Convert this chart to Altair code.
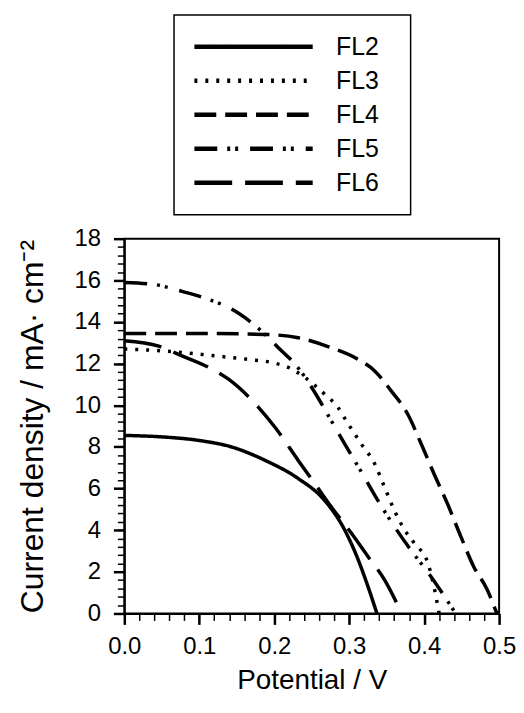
import altair as alt
import pandas as pd

series = ["FL2", "FL3", "FL4", "FL5", "FL6"]

fl2_x = [0.0, 0.05, 0.0995, 0.1437, 0.188, 0.232, 0.267, 0.294, 0.312, 0.325, 0.337]
fl2_y = [8.55, 8.48, 8.31, 7.99, 7.35, 6.48, 5.44, 4.01, 2.58, 1.30, 0.0]

fl3_x = [0.0, 0.0553, 0.1216, 0.166, 0.197, 0.22, 0.241, 0.267, 0.285, 0.297, 0.316, 0.334, 0.347, 0.36, 0.374, 0.387, 0.405, 0.413, 0.42]
fl3_y = [12.7, 12.6, 12.37, 12.2, 12.05, 11.8, 11.33, 10.54, 9.9, 9.2, 8.15, 7.19, 6.08, 4.97, 4.01, 3.37, 2.42, 1.30, 0.0]

fl4_x = [0.0, 0.1, 0.188, 0.232, 0.276, 0.312, 0.334, 0.356, 0.378, 0.396, 0.413, 0.431, 0.449, 0.466, 0.484, 0.497]
fl4_y = [13.45, 13.45, 13.4, 13.24, 12.76, 12.2, 11.65, 10.69, 9.58, 8.15, 6.72, 5.28, 3.69, 2.26, 1.15, 0.0]

fl5_x = [0.0, 0.04, 0.077, 0.108, 0.152, 0.183, 0.21, 0.228, 0.25, 0.276, 0.294, 0.32, 0.338, 0.358, 0.382, 0.409, 0.427, 0.442]
fl5_y = [15.9, 15.8, 15.47, 15.14, 14.43, 13.56, 12.6, 11.97, 10.85, 9.26, 8.15, 6.56, 5.44, 4.3, 3.06, 1.78, 0.83, 0.0]

fl6_x = [0.0, 0.046, 0.077, 0.113, 0.139, 0.179, 0.201, 0.232, 0.254, 0.276, 0.303, 0.325, 0.347, 0.37]
fl6_y = [13.1, 12.84, 12.37, 11.81, 11.25, 9.9, 8.94, 7.35, 6.24, 5.12, 3.85, 2.74, 1.62, 0.0]

dashes = [[1, 0], [3, 8], [22, 9], [23, 10, 3, 5, 3, 12], [38, 13]]

x_major_ticks = [0.0, 0.1, 0.2, 0.3, 0.4, 0.5]
y_major_ticks = [0, 2, 4, 6, 8, 10, 12, 14, 16, 18]
x_minor_ticks = [round(i * 0.02, 2) for i in range(26)]
y_minor_ticks = [round(i * 0.4, 1) for i in range(46)]

rows = []
for name, xs, ys in zip(series,
                        [fl2_x, fl3_x, fl4_x, fl5_x, fl6_x],
                        [fl2_y, fl3_y, fl4_y, fl5_y, fl6_y]):
    for i, (xv, yv) in enumerate(zip(xs, ys)):
        rows.append({"series": name, "V": xv, "J": yv, "order": i})
df = pd.DataFrame(rows)

FONT = "Liberation Sans"

x_scale = alt.Scale(domain=[0, 0.5], nice=False)
y_scale = alt.Scale(domain=[0, 18], nice=False)

base = alt.Chart(df)

lines = base.mark_line(
    color="black", strokeWidth=3.5, interpolate="monotone", clip=True, strokeCap="butt"
).encode(
    x=alt.X("V:Q", scale=x_scale,
            axis=alt.Axis(
                title="Potential / V",
                values=x_major_ticks,
                format=".1f",
                tickSize=11,
                tickWidth=2.5,
                labelOverlap=False,
                labelFlush=False,
                labelPadding=10,
                titlePadding=8,
                orient="bottom",
            )),
    y=alt.Y("J:Q", scale=y_scale,
            axis=alt.Axis(
                title="Current density / mA· cm⁻²",
                values=y_major_ticks,
                format="d",
                tickSize=11,
                tickWidth=2.5,
                labelOverlap=False,
                labelFlush=False,
                labelPadding=13,
                titlePadding=25,
                titleFontSize=32,
                orient="left",
            )),
    strokeDash=alt.StrokeDash(
        "series:N",
        scale=alt.Scale(domain=series, range=dashes),
        legend=alt.Legend(
            title="\u00a0",
            titleOrient="right",
            titleFontSize=4,
            titlePadding=14,
            orient="none",
            legendX=50,
            legendY=-225,
            symbolType="stroke",
            symbolSize=119 ** 2,
            symbolStrokeWidth=4.5,
            symbolStrokeColor="black",
            clipHeight=28,
            rowPadding=6.2,
            padding=18,
            symbolOffset=0,
            labelOffset=21,
            labelFontSize=25,
            labelFont=FONT,
            labelColor="black",
            strokeColor="black",
        ),
    ),
    order="order:Q",
)

minor = base.mark_point(opacity=0).encode(
    x=alt.X("V:Q", scale=x_scale,
            axis=alt.Axis(title=None, values=x_minor_ticks, labels=False,
                          domain=False, tickSize=7, tickWidth=1.5, orient="bottom")),
    y=alt.Y("J:Q", scale=y_scale,
            axis=alt.Axis(title=None, values=y_minor_ticks, labels=False,
                          domain=False, tickSize=7, tickWidth=1.5, orient="left")),
)

chart = alt.layer(lines, minor).resolve_axis(
    x="independent", y="independent"
).properties(
    width=377,
    height=377,
    padding={"left": 8, "top": 4, "right": 0, "bottom": 0},
).configure_view(
    stroke="black", strokeWidth=2
).configure_axis(
    grid=False,
    domainColor="black",
    domainWidth=2,
    tickColor="black",
    labelFont=FONT,
    labelFontSize=24,
    labelColor="black",
    titleFont=FONT,
    titleFontSize=28,
    titleFontWeight="normal",
    titleColor="black",
).configure_legend(
    strokeWidth=1.5
)

chart.save("out.html", embed_options={"renderer": "svg", "actions": False})
